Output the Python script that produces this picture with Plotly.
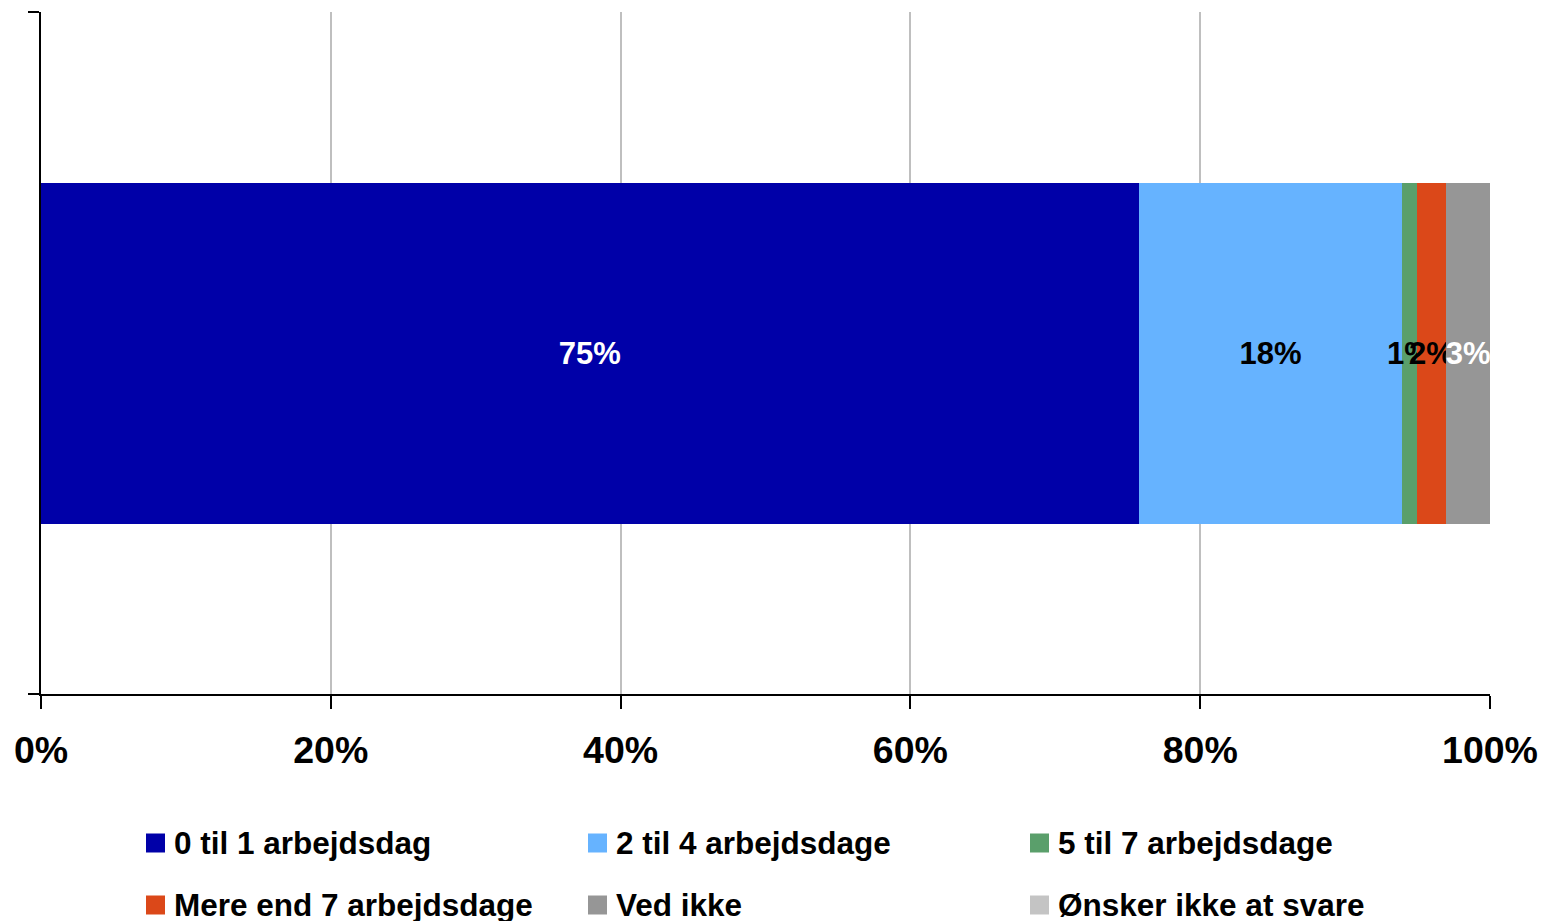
import plotly.graph_objects as go

# Survey answers: share of respondents per category
categories = [
    "0 til 1 arbejdsdag",
    "2 til 4 arbejdsdage",
    "5 til 7 arbejdsdage",
    "Mere end 7 arbejdsdage",
    "Ved ikke",
    "Ønsker ikke at svare",
]
values = [75, 18, 1, 2, 3, 0]
colors = ["#0000A8", "#66B3FF", "#5A9F6B", "#DB4819", "#969696", "#C4C4C4"]
label_colors = ["white", "black", "black", "black", "white", "black"]
x_ticks = [0, 20, 40, 60, 80, 100]
x_tick_labels = [f"{t}%" for t in x_ticks]
row = [" "]

FONT = "Arial, 'Liberation Sans', sans-serif"
W, H = 1542, 921
M_L, M_R, M_T, M_B = 41, 52, 12, 227
PW, PH = W - M_L - M_R, H - M_T - M_B

fig = go.Figure()
for name, v, c, lc in zip(categories, values, colors, label_colors):
    fig.add_trace(go.Bar(
        x=[v], y=row, orientation="h", name=name,
        marker=dict(color=c, line=dict(width=0)),
        width=0.5,
        text=[f"{v}%" if v else ""],
        textposition="inside", insidetextanchor="middle",
        textangle=0, constraintext="none",
        textfont=dict(family=FONT, size=31, color=lc, weight="bold"),
        showlegend=False, hoverinfo="skip",
    ))


def px_x(px):
    return (px - M_L) / PW


def px_y(py):
    return (H - M_B - py) / PH


# Legend laid out in a 3-column grid under the axis
shapes, annotations = [], []
col_x = [146, 588, 1030]
row_y = [843, 905]
sq = 19
for i, (name, c) in enumerate(zip(categories, colors)):
    x0 = col_x[i % 3]
    yc = row_y[i // 3]
    shapes.append(dict(
        type="rect", xref="paper", yref="paper",
        x0=px_x(x0), x1=px_x(x0 + sq),
        y0=px_y(yc + sq / 2), y1=px_y(yc - sq / 2),
        fillcolor=c, line=dict(width=0), layer="above",
    ))
    annotations.append(dict(
        xref="paper", yref="paper", x=px_x(x0 + 26), y=px_y(yc),
        xanchor="left", yanchor="middle", showarrow=False, text=name,
        font=dict(family=FONT, size=31.5, color="black", weight="bold"),
    ))

fig.update_layout(
    width=W, height=H,
    margin=dict(l=M_L, r=M_R, t=M_T, b=M_B, pad=0, autoexpand=False),
    barmode="stack", barnorm="percent",
    plot_bgcolor="white", paper_bgcolor="white",
    showlegend=False,
    shapes=shapes, annotations=annotations,
    xaxis=dict(
        range=[0, 100], tickmode="array", tickvals=x_ticks, ticktext=x_tick_labels,
        showgrid=True, gridcolor="#BFBFBF", gridwidth=1.5, zeroline=False,
        showline=True, linecolor="black", linewidth=1.5,
        ticks="outside", ticklen=13, tickwidth=1.5, tickcolor="black",
        ticklabelstandoff=9, automargin=False,
        tickfont=dict(family=FONT, size=37.5, color="black", weight="bold"),
        fixedrange=True,
    ),
    yaxis=dict(
        type="category", range=[-0.5, 0.5], tickson="boundaries",
        ticks="outside", ticklen=11, tickwidth=1.5, tickcolor="black",
        showline=True, linecolor="black", linewidth=1.5,
        showticklabels=False, showgrid=False, zeroline=False,
        automargin=False, fixedrange=True,
    ),
)

fig.write_html("out.html")
